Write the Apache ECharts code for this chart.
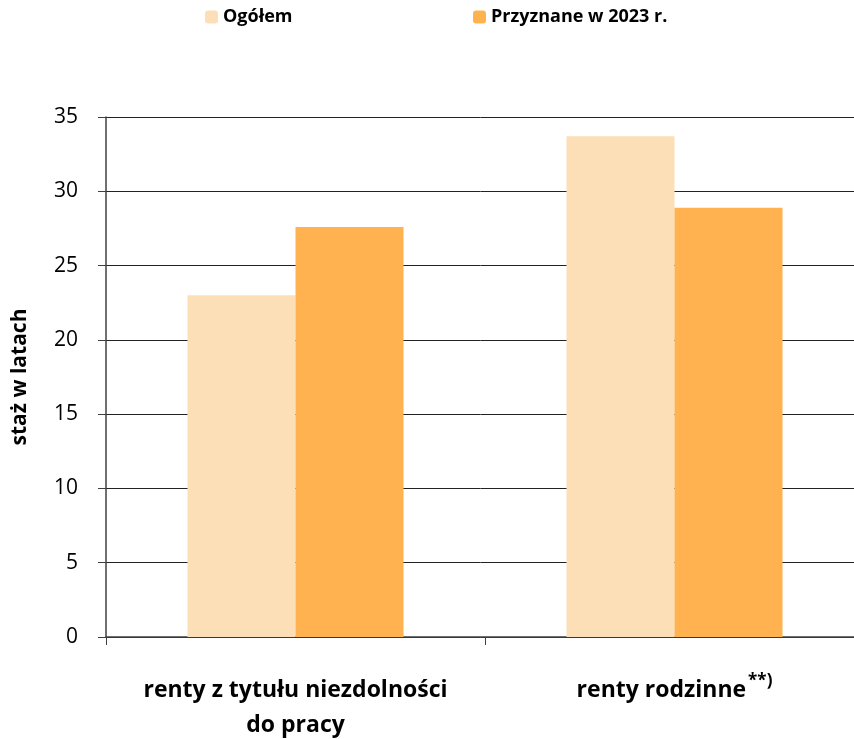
<!DOCTYPE html>
<html><head><meta charset="utf-8">
<script src="https://cdn.jsdelivr.net/npm/echarts@6/dist/echarts.min.js"></script>
<style>html,body{margin:0;padding:0;background:#fff}#c{width:854px;height:739px}</style>
</head><body><div id="c"></div>
<script>
const categories = ['renty z tytułu niezdolności\ndo pracy', 'renty rodzinne'];
const seriesNames = ['Ogółem', 'Przyznane w 2023 r.'];
const ogolem = [23.0, 33.7];
const przyznane = [27.6, 28.9];
const yTicks = [0, 5, 10, 15, 20, 25, 30, 35];

const font = '"Open Sans", sans-serif';
const legendText = {fontFamily: font, fontWeight: 'bold', fontSize: 18, color: '#000'};
const chart = echarts.init(document.getElementById('c'));
chart.setOption({
  animation: false,
  legend: [
    {top: 8, left: 205, padding: 0, itemWidth: 13, itemHeight: 13, textStyle: legendText, data: [seriesNames[0]]},
    {top: 8, left: 473, padding: 0, itemWidth: 13, itemHeight: 13, textStyle: legendText, data: [seriesNames[1]]}
  ],
  grid: {left: 106, width: 758, top: 117, height: 520, outerBoundsMode: 'none', containLabel: false},
  xAxis: {
    type: 'category', data: categories,
    axisLine: {lineStyle: {color: '#404040', width: 1.5}},
    axisTick: {show: true, interval: 0, length: 8, lineStyle: {color: '#404040'}},
    axisLabel: {
      interval: 0, hideOverlap: false, showMinLabel: true, showMaxLabel: true,
      margin: 36, fontFamily: font, fontWeight: 'bold', fontSize: 23, color: '#000', lineHeight: 35,
      formatter: function (v) { return v === 'renty rodzinne' ? v + '{sup|**)}' : v; },
      rich: {sup: {fontFamily: font, fontWeight: 'bold', fontSize: 17, color: '#000', verticalAlign: 'top', padding: [0,0,14,2]}}
    }
  },
  yAxis: {
    type: 'value', min: 0, max: 35, interval: 5,
    name: 'staż w latach', nameLocation: 'middle', nameGap: 75, nameRotate: 90,
    nameTextStyle: {fontFamily: font, fontWeight: 'bold', fontSize: 21, color: '#000'},
    axisLine: {show: true, lineStyle: {color: '#404040', width: 1.5}},
    axisTick: {show: true, length: 8, lineStyle: {color: '#404040'}},
    axisLabel: {margin: 28, fontFamily: font, fontSize: 21, color: '#000',
      formatter: function (v) { return yTicks.indexOf(v) >= 0 ? String(v) : ''; }},
    splitLine: {lineStyle: {color: '#222', width: 1}}
  },
  series: [
    {name: seriesNames[0], type: 'bar', data: ogolem, barWidth: '28.5%', barGap: '0%', itemStyle: {color: '#FCDFB7'}},
    {name: seriesNames[1], type: 'bar', data: przyznane, barWidth: '28.5%', itemStyle: {color: '#FFB24F'}}
  ]
});
</script></body></html>
